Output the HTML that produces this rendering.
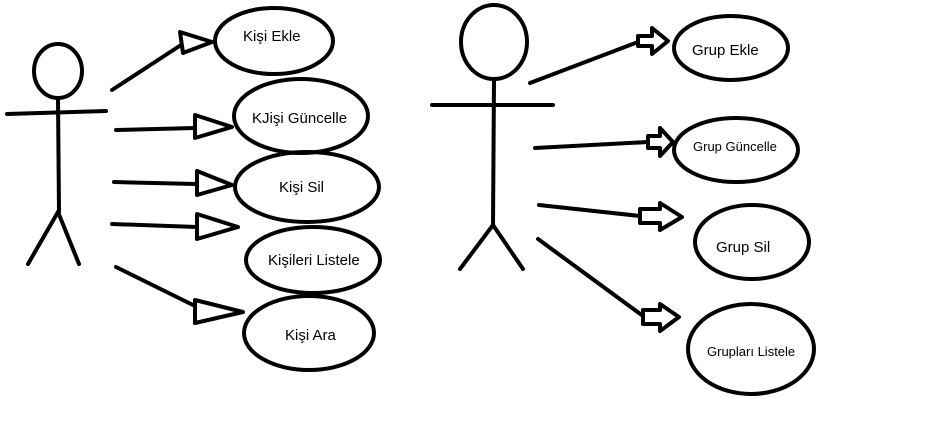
<!DOCTYPE html>
<html><head><meta charset="utf-8"><style>
html,body{margin:0;padding:0;background:#fff;}
svg{display:block;}
text{font-family:"Liberation Sans","DejaVu Sans",sans-serif;fill:#000;}
</style></head><body>
<svg width="939" height="437" viewBox="0 0 939 437" xmlns="http://www.w3.org/2000/svg">
<g fill="none" stroke="#000" stroke-width="4" stroke-linecap="round" stroke-linejoin="round">
<!-- left actor -->
<ellipse cx="58" cy="71" rx="24" ry="27"/>
<line x1="7" y1="114" x2="106" y2="111"/>
<line x1="58" y1="98" x2="59" y2="212"/>
<line x1="58" y1="212" x2="28" y2="264"/>
<line x1="58" y1="212" x2="79" y2="264"/>
<!-- left ellipses -->
<ellipse cx="274" cy="41" rx="59" ry="33"/>
<ellipse cx="301" cy="116" rx="67" ry="37"/>
<ellipse cx="307" cy="187" rx="72" ry="35"/>
<ellipse cx="313" cy="260" rx="67" ry="33"/>
<ellipse cx="309" cy="333" rx="65" ry="37"/>
<!-- left arrows -->
<line x1="112" y1="90" x2="181" y2="45"/>
<polygon points="180,32 183,53 212,42"/>
<line x1="116" y1="130" x2="195" y2="128"/>
<polygon points="195,115 195,138 232,127"/>
<line x1="114" y1="182" x2="196" y2="184"/>
<polygon points="197,171 197,195 232,185"/>
<line x1="112" y1="224" x2="197" y2="227"/>
<polygon points="197,214 197,239 238,227"/>
<line x1="116" y1="267" x2="195" y2="306"/>
<polygon points="195,300 195,323 243,312"/>
<!-- right actor -->
<ellipse cx="494" cy="42" rx="33" ry="37"/>
<line x1="432" y1="105" x2="553" y2="105"/>
<line x1="494" y1="80" x2="493" y2="225"/>
<line x1="493" y1="225" x2="460" y2="269"/>
<line x1="493" y1="225" x2="523" y2="269"/>
<!-- right ellipses -->
<ellipse cx="731" cy="48" rx="57" ry="32"/>
<ellipse cx="736" cy="150" rx="62" ry="32"/>
<ellipse cx="752" cy="242" rx="57" ry="37"/>
<ellipse cx="751" cy="349" rx="63" ry="45"/>
<!-- right arrows -->
<line x1="530" y1="83" x2="638" y2="42"/>
<polygon points="638,36 652,36 652,28 668,41 652,54 652,46 638,46"/>
<line x1="535" y1="148" x2="648" y2="142"/>
<polygon points="648,136 660,136 660,128 673,142 660,156 660,148 648,148"/>
<line x1="539" y1="205" x2="640" y2="216"/>
<polygon points="640,209 660,209 660,203 682,217 660,230 660,223 640,223"/>
<line x1="538" y1="239" x2="643" y2="316"/>
<polygon points="643,310 660,310 660,304 679,317 660,331 660,324 643,324"/>
</g>
<g font-size="15">
<text x="243" y="41">Kişi Ekle</text>
<text x="252" y="123">KJişi Güncelle</text>
<text x="279" y="192">Kişi Sil</text>
<text x="268" y="265">Kişileri Listele</text>
<text x="285" y="340">Kişi Ara</text>
<text x="692" y="55">Grup Ekle</text>
<text x="716" y="252">Grup Sil</text>
</g>
<g font-size="13">
<text x="693" y="151">Grup Güncelle</text>
<text x="707" y="356">Grupları Listele</text>
</g>
</svg>
</body></html>
